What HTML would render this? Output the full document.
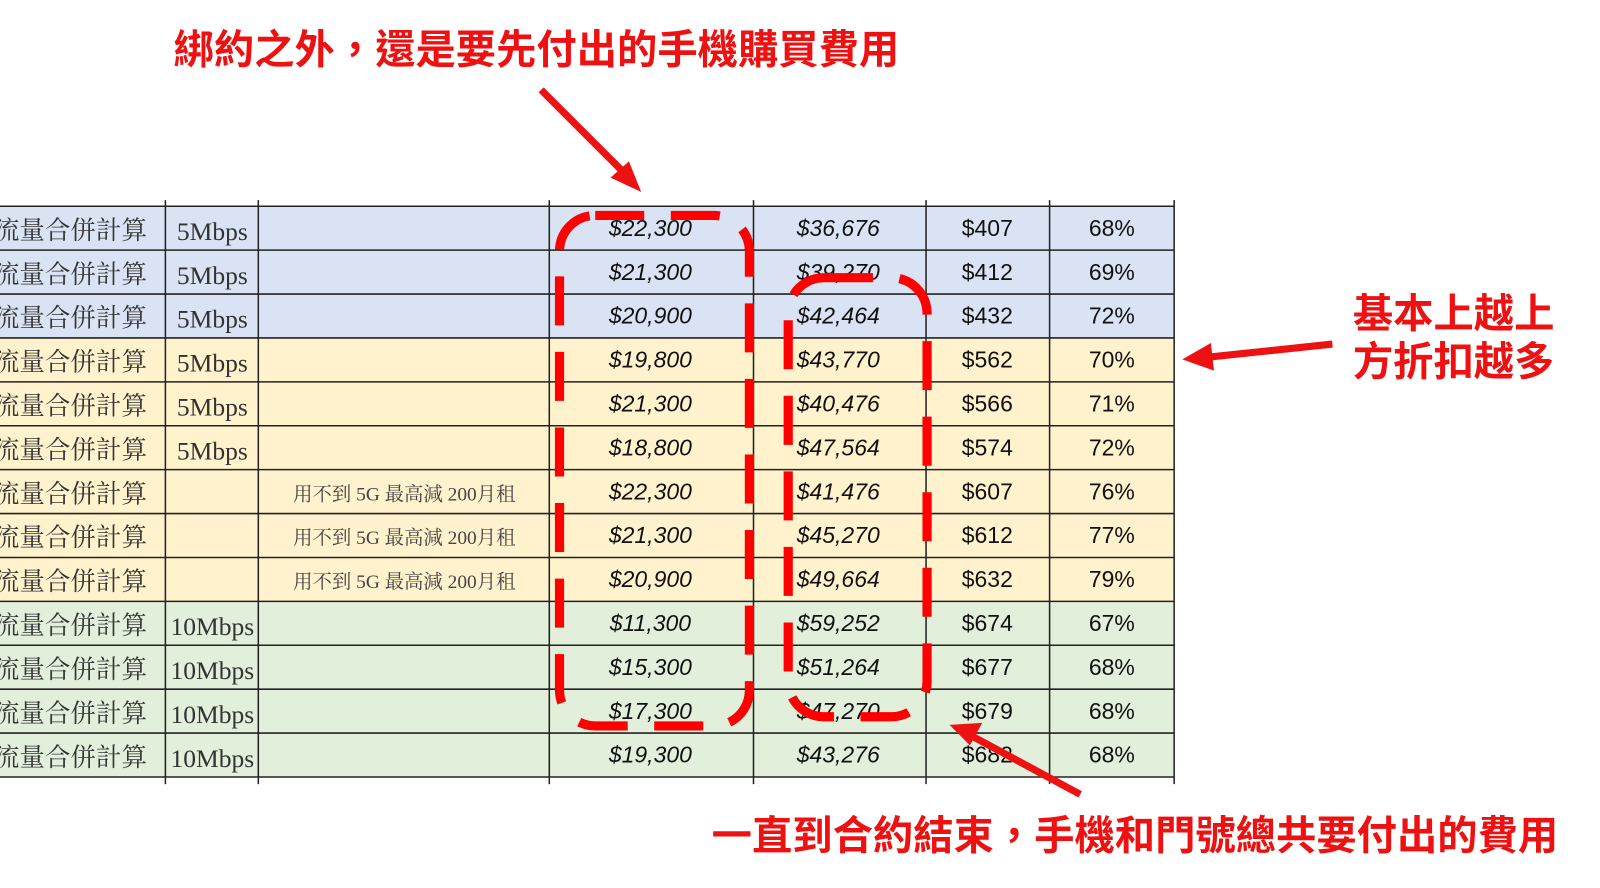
<!DOCTYPE html>
<html><head><meta charset="utf-8"><style>
html,body{margin:0;padding:0;background:#fff;width:1600px;height:888px;overflow:hidden}
svg{display:block}
.c1{font-family:"Liberation Serif","Noto Serif CJK SC",serif;font-size:25px;fill:#333}
.c3{font-family:"Liberation Serif","Noto Serif CJK SC",serif;font-size:19px;fill:#444}
.n{font-family:"Liberation Sans",sans-serif;font-size:22.5px;fill:#111}
.i{font-style:italic}
.red{font-family:"Liberation Sans","Noto Sans CJK TC",sans-serif;font-size:39.5px;font-weight:bold;fill:#ee1111}
</style></head><body>
<svg width="1600" height="888" viewBox="0 0 1600 888" xmlns="http://www.w3.org/2000/svg">
<g transform="scale(1.021)">
<rect x="0" y="202" width="1150" height="129" fill="#dae3f3"/>
<rect x="0" y="331" width="1150" height="258" fill="#fff2cc"/>
<rect x="0" y="589" width="1150" height="172" fill="#e2efda"/>
<g stroke="#222" stroke-width="1.5">
<line x1="0" y1="202" x2="1150" y2="202"/><line x1="0" y1="245" x2="1150" y2="245"/><line x1="0" y1="288" x2="1150" y2="288"/><line x1="0" y1="331" x2="1150" y2="331"/><line x1="0" y1="374" x2="1150" y2="374"/><line x1="0" y1="417" x2="1150" y2="417"/><line x1="0" y1="460" x2="1150" y2="460"/><line x1="0" y1="503" x2="1150" y2="503"/><line x1="0" y1="546" x2="1150" y2="546"/><line x1="0" y1="589" x2="1150" y2="589"/><line x1="0" y1="632" x2="1150" y2="632"/><line x1="0" y1="675" x2="1150" y2="675"/><line x1="0" y1="718" x2="1150" y2="718"/><line x1="0" y1="761" x2="1150" y2="761"/>
<line x1="162" y1="196" x2="162" y2="768"/><line x1="253" y1="196" x2="253" y2="768"/><line x1="538" y1="196" x2="538" y2="768"/><line x1="738" y1="196" x2="738" y2="768"/><line x1="907" y1="196" x2="907" y2="768"/><line x1="1028" y1="196" x2="1028" y2="768"/><line x1="1150" y1="196" x2="1150" y2="768"/>
</g>
<g class="c1">
<text x="-6" y="234">流量合併計算</text><text x="-6" y="277">流量合併計算</text><text x="-6" y="320">流量合併計算</text><text x="-6" y="363">流量合併計算</text><text x="-6" y="406">流量合併計算</text><text x="-6" y="449">流量合併計算</text><text x="-6" y="492">流量合併計算</text><text x="-6" y="535">流量合併計算</text><text x="-6" y="578">流量合併計算</text><text x="-6" y="621">流量合併計算</text><text x="-6" y="664">流量合併計算</text><text x="-6" y="707">流量合併計算</text><text x="-6" y="750">流量合併計算</text>
</g>
<g class="c1" text-anchor="middle">
<text x="208" y="235">5Mbps</text><text x="208" y="278">5Mbps</text><text x="208" y="321">5Mbps</text><text x="208" y="364">5Mbps</text><text x="208" y="407">5Mbps</text><text x="208" y="450">5Mbps</text>
<text x="208" y="622">10Mbps</text><text x="208" y="665">10Mbps</text><text x="208" y="708">10Mbps</text><text x="208" y="751">10Mbps</text>
</g>
<g class="c3" text-anchor="middle">
<text x="396" y="490">用不到 5G 最高減 200月租</text><text x="396" y="533">用不到 5G 最高減 200月租</text><text x="396" y="576">用不到 5G 最高減 200月租</text>
</g>
<g class="n i" text-anchor="middle">
<text x="637" y="231">$22,300</text><text x="637" y="274">$21,300</text><text x="637" y="317">$20,900</text><text x="637" y="360">$19,800</text><text x="637" y="403">$21,300</text><text x="637" y="446">$18,800</text><text x="637" y="489">$22,300</text><text x="637" y="532">$21,300</text><text x="637" y="575">$20,900</text><text x="637" y="618">$11,300</text><text x="637" y="661">$15,300</text><text x="637" y="704">$17,300</text><text x="637" y="747">$19,300</text>
<text x="821" y="231">$36,676</text><text x="821" y="274">$39,270</text><text x="821" y="317">$42,464</text><text x="821" y="360">$43,770</text><text x="821" y="403">$40,476</text><text x="821" y="446">$47,564</text><text x="821" y="489">$41,476</text><text x="821" y="532">$45,270</text><text x="821" y="575">$49,664</text><text x="821" y="618">$59,252</text><text x="821" y="661">$51,264</text><text x="821" y="704">$47,270</text><text x="821" y="747">$43,276</text>
</g>
<g class="n" text-anchor="middle">
<text x="967" y="231">$407</text><text x="967" y="274">$412</text><text x="967" y="317">$432</text><text x="967" y="360">$562</text><text x="967" y="403">$566</text><text x="967" y="446">$574</text><text x="967" y="489">$607</text><text x="967" y="532">$612</text><text x="967" y="575">$632</text><text x="967" y="618">$674</text><text x="967" y="661">$677</text><text x="967" y="704">$679</text><text x="967" y="747">$682</text>
<text x="1089" y="231">68%</text><text x="1089" y="274">69%</text><text x="1089" y="317">72%</text><text x="1089" y="360">70%</text><text x="1089" y="403">71%</text><text x="1089" y="446">72%</text><text x="1089" y="489">76%</text><text x="1089" y="532">77%</text><text x="1089" y="575">79%</text><text x="1089" y="618">67%</text><text x="1089" y="661">68%</text><text x="1089" y="704">68%</text><text x="1089" y="747">68%</text>
</g>
<g fill="none" stroke="#ff0000" stroke-width="9" stroke-dasharray="48 26">
<rect x="548" y="211" width="186" height="500" rx="35"/>
<rect x="772" y="272" width="136" height="430" rx="35"/>
</g>
<g stroke="#ee1111" stroke-width="7" fill="#ee1111">
<line x1="530" y1="88" x2="612" y2="170"/><polygon points="628,188 598,174 616,158" stroke="none"/>
<line x1="1305" y1="337" x2="1182" y2="350"/><polygon points="1158,352 1186,336 1189,363" stroke="none"/>
<line x1="1058" y1="778" x2="952" y2="721"/><polygon points="930,710 962,708 950,730" stroke="none"/>
</g>
<text class="red" x="170" y="62">綁約之外，還是要先付出的手機購買費用</text>
<text class="red" x="1325" y="321">基本上越上</text>
<text class="red" x="1325" y="368">方折扣越多</text>
<text class="red" x="697" y="832">一直到合約結束，手機和門號總共要付出的費用</text>
</g>
</svg>
</body></html>
